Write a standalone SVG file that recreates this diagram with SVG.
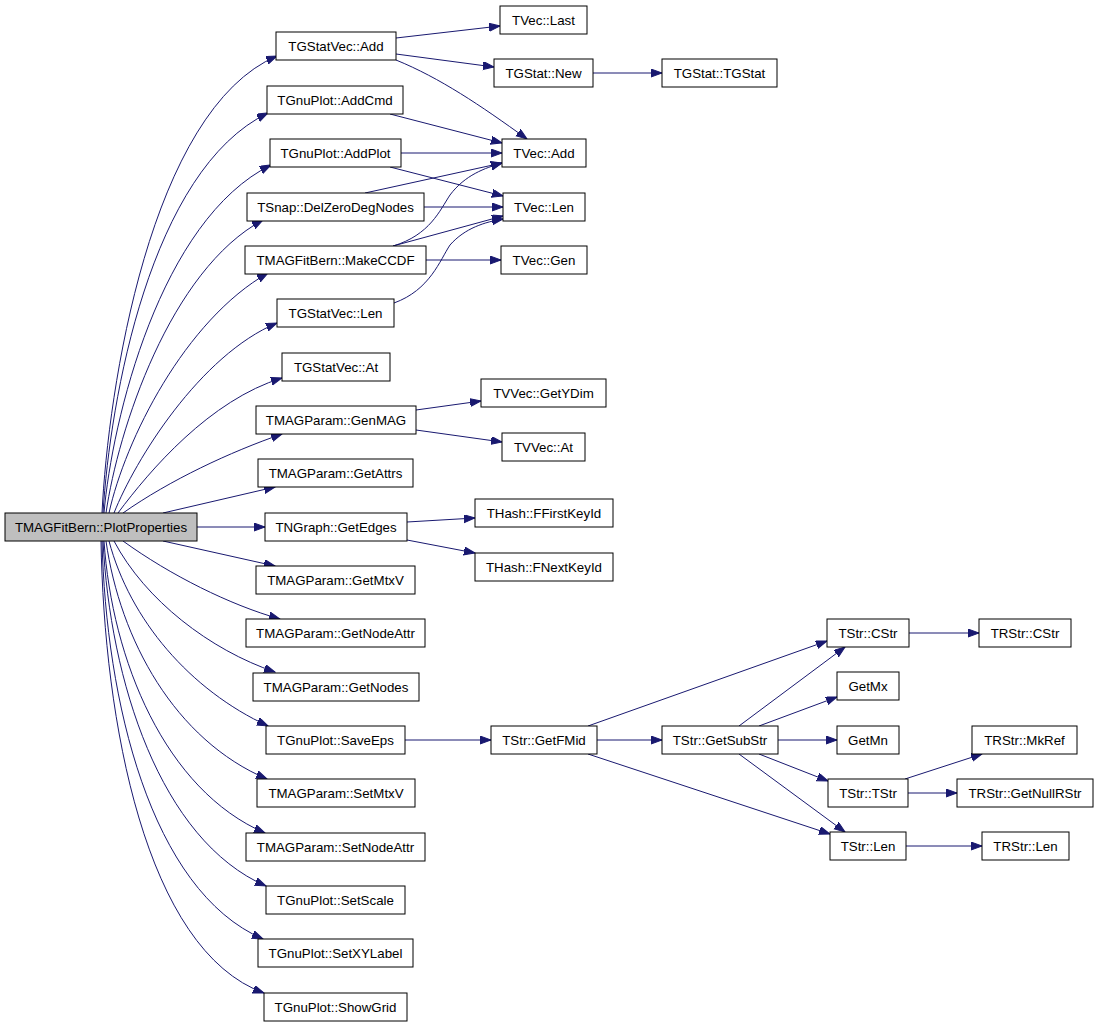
<svg xmlns="http://www.w3.org/2000/svg" width="1099" height="1027" viewBox="0 0 1099 1027">
<style>
.node rect{fill:#ffffff;stroke:#000000;stroke-width:1}
.node.root rect{fill:#bfbfbf}
.node text{font-family:"Liberation Sans",Arial,sans-serif;font-size:13.3px;fill:#000000;text-anchor:middle}
.edges path{fill:none;stroke:#191970;stroke-width:1;marker-end:url(#arr)}
</style>
<defs>
<marker id="arr" markerWidth="12" markerHeight="9" refX="11" refY="4" orient="auto" markerUnits="userSpaceOnUse">
<path d="M0,0 L11,4 L0,8 z" fill="#191970" stroke="#191970" stroke-width="1"/>
</marker>
</defs>
<rect width="1099" height="1027" fill="#ffffff"/>
<g id="connectors" class="edges">
<path d="M102,513 C108,390 150,110 277,56"/>
<path d="M103,513 C110,400 150,170 268,113"/>
<path d="M104,513 C112,420 160,220 271,165"/>
<path d="M106,513 C118,430 170,270 263,220"/>
<path d="M109,513 C125,440 185,320 268,273"/>
<path d="M114,513 C135,460 200,355 277,323"/>
<path d="M118,513 C150,470 210,400 282,378"/>
<path d="M123,513 C170,480 230,452 282,434"/>
<path d="M163,513 L275,487"/>
<path d="M197,527 L265,527"/>
<path d="M163,541 L275,566"/>
<path d="M123,541 C170,575 230,605 280,619"/>
<path d="M114,541 C145,600 210,650 275,672"/>
<path d="M109,541 C130,620 190,690 268,726"/>
<path d="M106,541 C120,640 175,740 267,779"/>
<path d="M104,541 C112,660 165,790 265,833"/>
<path d="M103,541 C110,680 160,840 266,886"/>
<path d="M102,541 C106,700 150,890 263,939"/>
<path d="M101,541 C104,720 145,950 264,993"/>
<path d="M396,38 L500,26"/>
<path d="M396,54 L494,67"/>
<path d="M396,60 C440,78 480,105 527,139"/>
<path d="M593,73 L662,73"/>
<path d="M390,114 L502,143"/>
<path d="M401,153 L502,153"/>
<path d="M390,167 L503,196"/>
<path d="M365,193 L502,163"/>
<path d="M424,207 L503,207"/>
<path d="M393,246 C430,235 440,210 450,195 C465,175 485,168 502,163"/>
<path d="M393,246 L503,216"/>
<path d="M426,260 L501,260"/>
<path d="M394,303 C430,290 440,260 450,245 C465,228 485,222 503,219"/>
<path d="M416,410 L481,401"/>
<path d="M416,430 L502,442"/>
<path d="M407,522 L475,518"/>
<path d="M407,540 L475,553"/>
<path d="M405,740 L491,740"/>
<path d="M588,726 L827,641"/>
<path d="M597,740 L662,740"/>
<path d="M588,754 L830,834"/>
<path d="M739,726 L845,647"/>
<path d="M759,726 L837,697"/>
<path d="M778,740 L837,740"/>
<path d="M759,754 L828,781"/>
<path d="M739,754 L845,832"/>
<path d="M909,633 L979,633"/>
<path d="M905,779 L982,754"/>
<path d="M908,793 L957,793"/>
<path d="M906,846 L982,846"/>
</g>
<g id="root" class="node root"><rect x="5" y="513" width="192" height="28"/><text x="101" y="531.5">TMAGFitBern::PlotProperties</text></g>
<g id="n1" class="node"><rect x="276" y="32" width="120" height="28"/><text x="336" y="50.5">TGStatVec::Add</text></g>
<g id="n2" class="node"><rect x="267" y="86" width="136" height="28"/><text x="335" y="104.5">TGnuPlot::AddCmd</text></g>
<g id="n3" class="node"><rect x="270" y="139" width="131" height="28"/><text x="335.5" y="157.5">TGnuPlot::AddPlot</text></g>
<g id="n4" class="node"><rect x="247" y="193" width="177" height="28"/><text x="335.5" y="211.5">TSnap::DelZeroDegNodes</text></g>
<g id="n5" class="node"><rect x="245" y="246" width="181" height="28"/><text x="335.5" y="264.5">TMAGFitBern::MakeCCDF</text></g>
<g id="n6" class="node"><rect x="277" y="299" width="117" height="28"/><text x="335.5" y="317.5">TGStatVec::Len</text></g>
<g id="n7" class="node"><rect x="282" y="353" width="108" height="28"/><text x="336" y="371.5">TGStatVec::At</text></g>
<g id="n8" class="node"><rect x="256" y="406" width="160" height="28"/><text x="336" y="424.5">TMAGParam::GenMAG</text></g>
<g id="n9" class="node"><rect x="258" y="459" width="155" height="28"/><text x="335.5" y="477.5">TMAGParam::GetAttrs</text></g>
<g id="n10" class="node"><rect x="265" y="513" width="142" height="28"/><text x="336" y="531.5">TNGraph::GetEdges</text></g>
<g id="n11" class="node"><rect x="256" y="566" width="159" height="28"/><text x="335.5" y="584.5">TMAGParam::GetMtxV</text></g>
<g id="n12" class="node"><rect x="246" y="619" width="179" height="28"/><text x="335.5" y="637.5">TMAGParam::GetNodeAttr</text></g>
<g id="n13" class="node"><rect x="253" y="673" width="166" height="28"/><text x="336" y="691.5">TMAGParam::GetNodes</text></g>
<g id="n14" class="node"><rect x="266" y="726" width="139" height="28"/><text x="335.5" y="744.5">TGnuPlot::SaveEps</text></g>
<g id="n15" class="node"><rect x="257" y="779" width="158" height="28"/><text x="336" y="797.5">TMAGParam::SetMtxV</text></g>
<g id="n16" class="node"><rect x="246" y="833" width="179" height="28"/><text x="335.5" y="851.5">TMAGParam::SetNodeAttr</text></g>
<g id="n17" class="node"><rect x="266" y="886" width="139" height="28"/><text x="335.5" y="904.5">TGnuPlot::SetScale</text></g>
<g id="n18" class="node"><rect x="258" y="939" width="155" height="28"/><text x="335.5" y="957.5">TGnuPlot::SetXYLabel</text></g>
<g id="n19" class="node"><rect x="264" y="993" width="143" height="28"/><text x="335.5" y="1011.5">TGnuPlot::ShowGrid</text></g>
<g id="n20" class="node"><rect x="500" y="6" width="87" height="28"/><text x="543.5" y="24.5">TVec::Last</text></g>
<g id="n21" class="node"><rect x="494" y="59" width="99" height="28"/><text x="543.5" y="77.5">TGStat::New</text></g>
<g id="n22" class="node"><rect x="662" y="59" width="115" height="28"/><text x="719.5" y="77.5">TGStat::TGStat</text></g>
<g id="n23" class="node"><rect x="502" y="139" width="84" height="28"/><text x="544" y="157.5">TVec::Add</text></g>
<g id="n24" class="node"><rect x="503" y="193" width="82" height="28"/><text x="544" y="211.5">TVec::Len</text></g>
<g id="n25" class="node"><rect x="501" y="246" width="86" height="28"/><text x="544" y="264.5">TVec::Gen</text></g>
<g id="n26" class="node"><rect x="481" y="379" width="125" height="28"/><text x="543.5" y="397.5">TVVec::GetYDim</text></g>
<g id="n27" class="node"><rect x="502" y="433" width="83" height="28"/><text x="543.5" y="451.5">TVVec::At</text></g>
<g id="n28" class="node"><rect x="475" y="499" width="138" height="28"/><text x="544" y="517.5">THash::FFirstKeyId</text></g>
<g id="n29" class="node"><rect x="475" y="553" width="138" height="28"/><text x="544" y="571.5">THash::FNextKeyId</text></g>
<g id="n30" class="node"><rect x="491" y="726" width="106" height="28"/><text x="544" y="744.5">TStr::GetFMid</text></g>
<g id="n31" class="node"><rect x="662" y="726" width="116" height="28"/><text x="720" y="744.5">TStr::GetSubStr</text></g>
<g id="n32" class="node"><rect x="827" y="619" width="82" height="28"/><text x="868" y="637.5">TStr::CStr</text></g>
<g id="n33" class="node"><rect x="979" y="619" width="92" height="28"/><text x="1025" y="637.5">TRStr::CStr</text></g>
<g id="n34" class="node"><rect x="837" y="672" width="62" height="28"/><text x="868" y="690.5">GetMx</text></g>
<g id="n35" class="node"><rect x="837" y="726" width="62" height="28"/><text x="868" y="744.5">GetMn</text></g>
<g id="n36" class="node"><rect x="972" y="726" width="105" height="28"/><text x="1024.5" y="744.5">TRStr::MkRef</text></g>
<g id="n37" class="node"><rect x="828" y="779" width="80" height="28"/><text x="868" y="797.5">TStr::TStr</text></g>
<g id="n38" class="node"><rect x="957" y="779" width="136" height="28"/><text x="1025" y="797.5">TRStr::GetNullRStr</text></g>
<g id="n39" class="node"><rect x="830" y="832" width="76" height="28"/><text x="868" y="850.5">TStr::Len</text></g>
<g id="n40" class="node"><rect x="982" y="832" width="87" height="28"/><text x="1025.5" y="850.5">TRStr::Len</text></g>
</svg>
